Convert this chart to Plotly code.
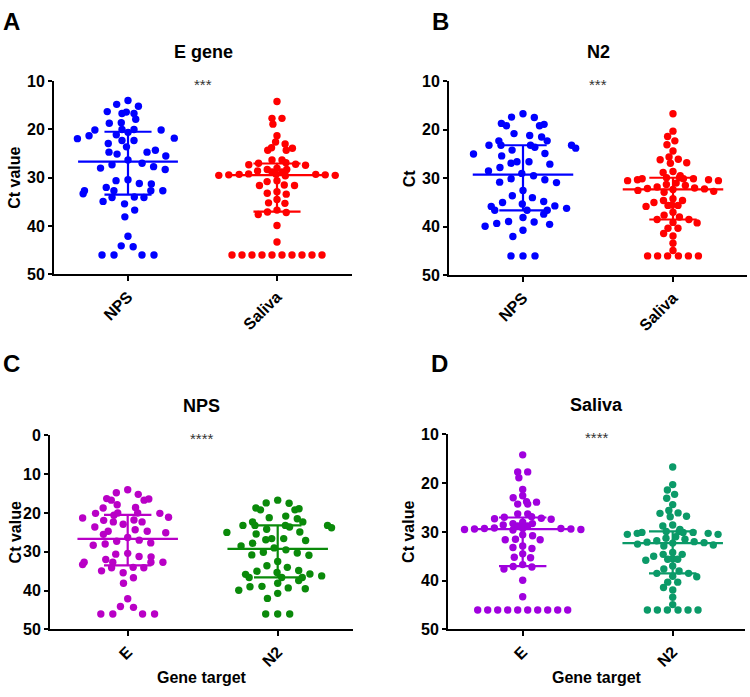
import numpy as np
import plotly.graph_objects as go

# ---------------- data (Ct values) ----------------
e_nps = [14.0, 14.8, 15.2, 16.3, 16.7, 16.7, 16.4, 17.9, 18.7, 18.6, 20.0, 20.1, 20.1, 20.6,
         20.0, 21.1, 21.3, 21.9, 22.3, 21.8, 22.3, 22.9, 23.6, 24.3, 24.7, 24.7, 25.5, 25.1,
         26.3, 27.0, 27.3, 28.0, 28.3, 27.7, 30.4, 30.6, 31.2, 31.3, 32.0, 32.7, 32.7, 32.7,
         32.7, 33.3, 34.1, 34.1, 34.0, 34.9, 35.4, 36.7, 38.1, 42.1, 44.3, 44.1, 46.0, 46.0,
         46.0, 46.0]
e_saliva = [14.2, 17.7, 17.7, 18.9, 21.3, 22.6, 23.0, 23.9, 23.8, 24.3, 24.3, 26.3, 26.3,
            27.0, 27.3, 28.0, 27.4, 27.2, 26.9, 28.3, 28.8, 28.8, 28.6, 28.3, 29.3, 29.5,
            29.5, 29.2, 29.3, 29.3, 29.6, 29.4, 29.4, 30.8, 31.6, 31.6, 31.5, 30.6, 33.2,
            34.5, 33.4, 32.9, 35.3, 35.2, 37.1, 37.2, 37.6, 36.7, 39.9, 43.3,
            46.0, 46.0, 46.0, 46.0, 46.0, 46.0, 46.0, 46.0, 46.0, 46.0]
n2_nps = [16.7, 17.4, 17.5, 18.7, 19.2, 19.2, 18.9, 20.8, 21.5, 21.2, 23.2, 23.2, 23.2, 23.2,
          22.3, 22.3, 23.8, 23.6, 24.9, 25.0, 24.2, 25.4, 26.6, 26.9, 26.6, 27.1, 27.8, 28.5,
          29.0, 29.5, 30.1, 30.8, 30.9, 30.3, 32.5, 34.0, 33.6, 35.0, 35.7, 36.2, 36.6, 36.6,
          36.6, 35.8, 35.3, 34.8, 38.1, 39.0, 39.5, 39.3, 39.9, 38.9, 37.4, 40.7, 42.0,
          46.0, 46.0, 46.0]
n2_saliva = [16.7, 20.3, 21.4, 22.3, 23.1, 24.4, 26.1, 26.8, 26.2, 25.6, 26.9, 28.6, 28.8,
             29.5, 29.9, 29.9, 30.1, 30.1, 30.3, 30.5, 30.5, 30.3, 30.1, 31.0, 31.3, 31.5,
             31.8, 32.0, 32.1, 32.2, 32.3, 32.5, 32.7, 32.9, 34.6, 35.5, 35.6, 35.0, 34.6,
             34.2, 35.8, 35.6, 37.0, 37.6, 38.0, 38.5, 39.2, 39.1, 38.5, 40.3, 40.3, 41.4,
             41.9, 43.4, 44.9, 46.0, 46.0, 46.0, 46.0, 46.0, 46.0]

panel_letters = ["A", "B", "C", "D"]
panel_titles = ["E gene", "N2", "NPS", "Saliva"]
y_titles = ["Ct value", "Ct", "Ct value", "Ct value"]
cats_sample = ["NPS", "Saliva"]
cats_gene = ["E", "N2"]
ticks_10_50 = [10, 20, 30, 40, 50]
ticks_0_50 = [0, 10, 20, 30, 40, 50]
stars = ["***", "***", "****", "****"]
x_title_bottom = "Gene target"

# ---------------- layout helpers ----------------
W, H = 750, 697
FONT = "Arial, Liberation Sans, sans-serif"


def px_x(x):
    return x / W


def px_y(y):
    return 1 - y / H


# panel plot areas in pixels: (left, right, top, bottom, centre of 1st cat, centre of 2nd)
areas = [(54, 352, 75, 273, 128, 277), (449, 747, 75, 274, 523, 673),
         (50, 353, 438, 637, 127.7, 277.7), (448, 745, 437, 637, 522.7, 672.7)]
yranges = [(50, 10), (50, 10), (50, 0), (50, 10)]
yticks = [ticks_10_50, ticks_10_50, ticks_0_50, ticks_10_50]
xcats = [cats_sample, cats_sample, cats_gene, cats_gene]
letter_pos = [(11, 14), (440, 14), (11, 364), (439, 364)]
ytitle_x = [15, 409, 15, 409]
# (values, colour, horizontal spacing px, vertical collision px)
series = [
    [(e_nps, "#0000FF", 12, 12.0), (e_saliva, "#FF0000", 10, 6.5)],
    [(n2_nps, "#0000FF", 12, 12.0), (n2_saliva, "#FF0000", 10, 6.5)],
    [(e_nps, "#B900C6", 12, 10.0), (n2_nps, "#0A8A0A", 12, 10.0)],
    [(e_saliva, "#A000DE", 10, 6.5), (n2_saliva, "#0B9A68", 10, 6.5)],
]


def swarm(vals, ppy, ppx, sx, sy):
    v = np.asarray(vals, float)
    order = np.argsort(v, kind="stable")
    xs = np.zeros(len(v))
    placed = []
    for i in order:
        yi = v[i] * ppy
        near = [(xs[j], v[j] * ppy) for j in placed if abs(v[j] * ppy - yi) < sy]
        cands = [0.0]
        for xj, yj in near:
            d = (yi - yj) / sy
            dx = sx * np.sqrt(max(0.0, 1 - d * d))
            cands += [xj + dx, xj - dx]
        cands.sort(key=lambda c: (round(abs(c), 6), c))
        for c in cands:
            if all(((c - xj) / sx) ** 2 + ((yi - yj) / sy) ** 2 >= 0.999 for xj, yj in near):
                xs[i] = c
                break
        placed.append(i)
    # centre rows of identical values
    for val in np.unique(v):
        idx = np.where(v == val)[0]
        if len(idx) > 1:
            xs[idx] -= xs[idx].mean()
    return xs / ppx


fig = go.Figure()
annotations = []
layout_axes = {}
TICKFONT = dict(family=FONT, size=16, color="black", weight="bold")

for k in range(4):
    l, r, t, b, c0, c1 = areas[k]
    xa = "x" if k == 0 else f"x{k+1}"
    ya = "y" if k == 0 else f"y{k+1}"
    xkey = "xaxis" if k == 0 else f"xaxis{k+1}"
    ykey = "yaxis" if k == 0 else f"yaxis{k+1}"
    ppx = c1 - c0
    xr = [(l - c0) / ppx, (r - c0) / ppx]
    ppy = (b - t) / abs(yranges[k][0] - yranges[k][1])
    for ci, (vals, col, sp, sy) in enumerate(series[k]):
        off = swarm(vals, ppy, ppx, sp, sy)
        fig.add_trace(go.Scatter(x=ci + off, y=vals, mode="markers", xaxis=xa, yaxis=ya,
                                 marker=dict(color=col, size=7.4, line=dict(width=0)),
                                 showlegend=False, hoverinfo="y"))
        q1, med, q3 = np.percentile(vals, [25, 50, 75], method="weibull")
        hw, cw = 0.335, 0.158
        lx = [ci - hw, ci + hw, None, ci - cw, ci + cw, None, ci - cw, ci + cw, None, ci, ci]
        ly = [med, med, None, q1, q1, None, q3, q3, None, q1, q3]
        fig.add_trace(go.Scatter(x=lx, y=ly, mode="lines", xaxis=xa, yaxis=ya,
                                 line=dict(color=col, width=2.2), showlegend=False,
                                 hoverinfo="skip"))
    layout_axes[xkey] = dict(domain=[px_x(l), px_x(r)], range=xr, anchor=ya,
                             tickmode="array", tickvals=[0, 1], ticktext=xcats[k],
                             tickangle=-45, showline=True, linecolor="black", linewidth=2,
                             ticks="outside", ticklen=5, tickwidth=2, tickcolor="black",
                             showgrid=False, zeroline=False, tickfont=TICKFONT)
    layout_axes[ykey] = dict(domain=[px_y(b), px_y(t)], range=list(yranges[k]), anchor=xa,
                             tickmode="array", tickvals=yticks[k],
                             showline=True, linecolor="black", linewidth=2,
                             ticks="outside", ticklen=4, tickwidth=2, tickcolor="black",
                             showgrid=False, zeroline=False, tickfont=TICKFONT)
    cx = (l + r) / 2
    lpx, lpy = letter_pos[k]
    annotations.append(dict(text=panel_letters[k], x=px_x(lpx), y=px_y(lpy), xref="paper",
                            yref="paper", xanchor="center", yanchor="middle", showarrow=False,
                            font=dict(family=FONT, size=24, color="black", weight="bold")))
    annotations.append(dict(text=panel_titles[k], x=px_x(cx), y=px_y(t - 30), xref="paper",
                            yref="paper", xanchor="center", yanchor="middle", showarrow=False,
                            font=dict(family=FONT, size=18, color="black", weight="bold")))
    annotations.append(dict(text=stars[k], x=px_x(cx), y=px_y(t + 3), xref="paper",
                            yref="paper", xanchor="center", yanchor="middle", showarrow=False,
                            font=dict(family=FONT, size=15, color="#333333")))
    annotations.append(dict(text=y_titles[k], x=px_x(ytitle_x[k]), y=px_y((t + b) / 2),
                            xref="paper", yref="paper", xanchor="center", yanchor="middle",
                            showarrow=False, textangle=-90,
                            font=dict(family=FONT, size=16, color="black", weight="bold")))
    if k >= 2:
        annotations.append(dict(text=x_title_bottom, x=px_x(cx), y=px_y(686), xref="paper",
                                yref="paper", xanchor="center", yanchor="middle",
                                showarrow=False,
                                font=dict(family=FONT, size=16, color="black", weight="bold")))

fig.update_layout(width=W, height=H, margin=dict(l=0, r=0, t=0, b=0),
                  paper_bgcolor="white", plot_bgcolor="white",
                  annotations=annotations, **layout_axes)

fig.write_html("out.html", config={"displayModeBar": False},
               post_script="document.body.style.margin='0';")
